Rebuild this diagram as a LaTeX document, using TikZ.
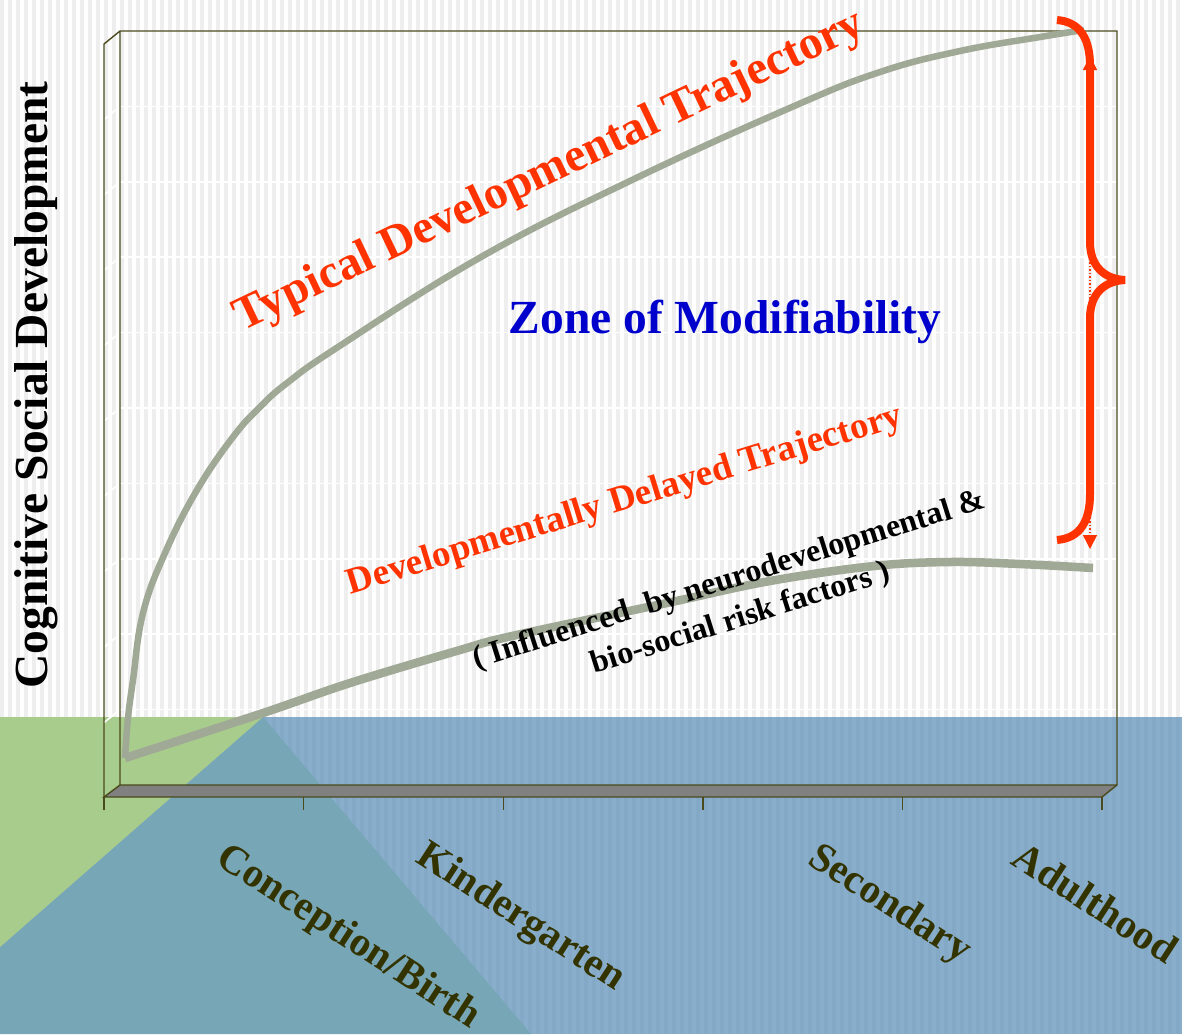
\documentclass[tikz,border=0pt]{standalone}
\usepackage{xcolor}
\usepackage{fontspec}
\setmainfont{Liberation Serif}
\usepackage{tikz}
\usetikzlibrary{shapes,arrows.meta,positioning}

\definecolor{stripegray}{HTML}{EEEEEE}
\definecolor{skyblue}{HTML}{88AECB}
\definecolor{seagreen}{HTML}{A8CC8C}
\definecolor{tealblue}{HTML}{77A6B6}
\definecolor{frameolive}{HTML}{4A4A1C}
\definecolor{labelolive}{HTML}{333300}
\definecolor{floorgray}{HTML}{808080}
\definecolor{trackgray}{HTML}{A0A896}
\definecolor{flame}{HTML}{FF3300}
\definecolor{zoneblue}{HTML}{0000CC}

\begin{document}
\begin{tikzpicture}
  [
    x=1pt, y=-1pt,
    Title/.style={inner sep=0pt, font=\bfseries\fontsize{47.5}{50}\selectfont},
    Axis/.style={inner sep=0pt, text=labelolive, font=\bfseries\fontsize{41}{44}\selectfont, rotate=-33, anchor=north west},
    Frame/.style={draw=frameolive, line width=1.4pt},
    Grid/.style={draw=white, line width=1.6pt},
    Track/.style={draw=trackgray, line join=round},
    Brace/.style={draw=flame, line width=8pt, line join=miter},
    Span/.style={draw=flame, dotted, line width=1.5pt, {Triangle[width=14pt,length=14pt]}-{Triangle[width=14pt,length=14pt]}}
  ]
  \useasboundingbox (0,0) rectangle (1182,1034);

  % Background
  \fill[white] (0,0) rectangle (1182,717);
  \foreach \x in {0,8,...,1176}
    \fill[stripegray] (\x,0) rectangle ++(4,717);
  \fill[skyblue] (0,717) rectangle (1182,1034);
  \foreach \x in {0,8,...,1176}
    \fill[black, opacity=0.025] (\x,717) rectangle ++(4,317);
  \fill[tealblue] (263,717) -- (0,947) -- (0,1034) -- (531,1034) -- cycle;
  \fill[seagreen] (0,717) -- (263,717) -- (0,947) -- cycle;

  % Grid
  \foreach \k in {1,...,9} {
    \draw[Grid] (120,31+75.4*\k) -- (1117,31+75.4*\k);
    \draw[Grid] (104,44+75.4*\k) -- (120,31+75.4*\k);
  }

  % Frame
  \fill[floorgray] (104,797) -- (120,785) -- (1117,785) -- (1102,797) -- cycle;
  \draw[Frame] (104,810) -- (104,44) -- (120,31) -- (1117,31) -- (1117,785) -- (120,785) -- (120,31);
  \draw[Frame] (120,785) -- (104,797) -- (1102,797) -- (1117,785);
  \foreach \x in {0,...,5}
    \draw[Frame] (104+199.6*\x,797) -- (104+199.6*\x,810);

  % Trajectories
  \draw[Track, line width=6.5pt] plot[smooth, tension=0.7] coordinates {(125,758) (128,718) (133,680) (143,613) (165,553) (197,490) (233,437) (260,407) (287,383) (338,347) (481,257) (632,180) (792,107) (880,72) (960,51) (1040,37) (1084,30)};
  \draw[Track, line width=8.5pt] plot[smooth, tension=0.6] coordinates {(125,758) (263,713) (350,683) (460,650) (512,636) (667,603) (770,581) (874,566) (950,562) (1020,564) (1093,568)};

  % Nodes
  \node[Title, text=flame, rotate=25.5] (typical) at(550, 172) {Typical Developmental Trajectory};
  \node[Title, text=zoneblue] (zone) at(725, 322) {Zone of Modifiability};
  \node[Title, text=flame, rotate=17, font=\bfseries\fontsize{37}{40}\selectfont] (delayed) at(625, 501) {Developmentally Delayed Trajectory};
  \node[inner sep=0pt, rotate=17.5, align=center, font=\bfseries\fontsize{32}{40}\selectfont] (risk) at(735, 600) {( Influenced\ \ by neurodevelopmental \&\\bio-social risk factors )};
  \node[inner sep=0pt, rotate=90, font=\bfseries\fontsize{47.5}{50}\selectfont] (yaxis) at(36, 385) {Cognitive Social Development};

  \node[Axis] (birth) at(230, 839) {Conception/Birth};
  \node[Axis] (kinder) at(430, 837) {Kindergarten};
  \node[Axis] (second) at(822, 839) {Secondary};
  \node[Axis] (adult) at(1025, 839) {Adulthood};

  % Lines
  \coordinate (ztop) at (1090, 56);
  \coordinate (zbot) at (1090, 549);
  \draw[Brace] (1057,20) .. controls (1081,22) and (1090,40) .. (1090,66) -- (1090,242)
    .. controls (1090,266) and (1104,279) .. (1125,280)
    .. controls (1104,281) and (1090,294) .. (1090,318) -- (1090,494)
    .. controls (1090,520) and (1081,538) .. (1057,540);
  \path[Span] (ztop) -- (zbot);

\end{tikzpicture}
\end{document}
